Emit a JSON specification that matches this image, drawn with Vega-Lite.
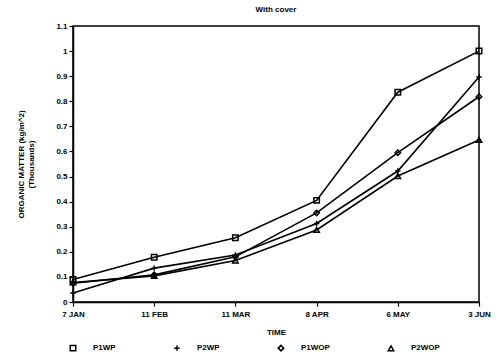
{
  "$schema": "https://vega.github.io/schema/vega-lite/v6.json",
  "width": 406,
  "height": 276,
  "autosize": "none",
  "padding": {"left": 73, "top": 26, "right": 21, "bottom": 59},
  "title": {"text": "With cover", "fontSize": 8, "font": "Liberation Sans", "fontWeight": "bold", "offset": 8},
  "data": {
    "values": [
      {"date": "7 JAN", "series": "P1WP", "value": 0.09},
      {"date": "11 FEB", "series": "P1WP", "value": 0.178},
      {"date": "11 MAR", "series": "P1WP", "value": 0.256},
      {"date": "8 APR", "series": "P1WP", "value": 0.405},
      {"date": "6 MAY", "series": "P1WP", "value": 0.836},
      {"date": "3 JUN", "series": "P1WP", "value": 1.0},
      {"date": "7 JAN", "series": "P2WP", "value": 0.036},
      {"date": "11 FEB", "series": "P2WP", "value": 0.135},
      {"date": "11 MAR", "series": "P2WP", "value": 0.187},
      {"date": "8 APR", "series": "P2WP", "value": 0.313},
      {"date": "6 MAY", "series": "P2WP", "value": 0.522},
      {"date": "3 JUN", "series": "P2WP", "value": 0.897},
      {"date": "7 JAN", "series": "P1WOP", "value": 0.075},
      {"date": "11 FEB", "series": "P1WOP", "value": 0.108},
      {"date": "11 MAR", "series": "P1WOP", "value": 0.18},
      {"date": "8 APR", "series": "P1WOP", "value": 0.355},
      {"date": "6 MAY", "series": "P1WOP", "value": 0.595},
      {"date": "3 JUN", "series": "P1WOP", "value": 0.818},
      {"date": "7 JAN", "series": "P2WOP", "value": 0.078},
      {"date": "11 FEB", "series": "P2WOP", "value": 0.104},
      {"date": "11 MAR", "series": "P2WOP", "value": 0.165},
      {"date": "8 APR", "series": "P2WOP", "value": 0.287},
      {"date": "6 MAY", "series": "P2WOP", "value": 0.502},
      {"date": "3 JUN", "series": "P2WOP", "value": 0.646}
    ]
  },
  "encoding": {
    "x": {
      "field": "date", "type": "ordinal",
      "sort": ["7 JAN", "11 FEB", "11 MAR", "8 APR", "6 MAY", "3 JUN"],
      "scale": {"type": "point", "padding": 0},
      "axis": {"title": "TIME", "labelAngle": 0, "titlePadding": 10, "labelPadding": 4}
    },
    "y": {
      "field": "value", "type": "quantitative",
      "scale": {"domain": [0, 1.1], "nice": false},
      "axis": {"title": ["ORGANIC MATTER (kg/m^2)", "(Thousands)"], "format": "~g", "labelOverlap": false, "values": [0,0.1,0.2,0.3,0.4,0.5,0.6,0.7,0.8,0.9,1,1.1], "titlePadding": 20, "titleY": 138}
    }
  },
  "layer": [
    {
      "mark": {"type": "line", "color": "black", "strokeWidth": 1.6},
      "encoding": {"detail": {"field": "series"}}
    },
    {
      "mark": {"type": "point", "color": "black", "filled": false, "strokeWidth": 1.5, "size": 30, "opacity": 1},
      "encoding": {
        "shape": {
          "field": "series", "type": "nominal",
          "scale": {"domain": ["P1WP", "P2WP", "P1WOP", "P2WOP"], "range": ["square", "M-1,0H1M0,-1V1", "diamond", "triangle-up"]},
          "legend": {
            "title": null, "orient": "none", "legendX": -4, "legendY": 318,
            "direction": "horizontal", "columns": 4, "columnPadding": 55,
            "labelOffset": 16, "symbolSize": 30, "symbolStrokeColor": "black", "symbolStrokeWidth": 1.5,
            "labelFont": "Liberation Sans", "labelFontWeight": "bold", "labelFontSize": 8
          }
        }
      }
    }
  ],
  "config": {
    "view": {"stroke": "black", "strokeWidth": 1.5},
    "axis": {
      "grid": false, "domainColor": "black", "domainWidth": 1.5, "tickColor": "black", "tickWidth": 1.2, "tickSize": 4,
      "labelFont": "Liberation Sans", "labelFontWeight": "bold", "labelFontSize": 8, "labelColor": "black",
      "titleFont": "Liberation Sans", "titleFontWeight": "bold", "titleFontSize": 8, "titleColor": "black"
    }
  }
}
